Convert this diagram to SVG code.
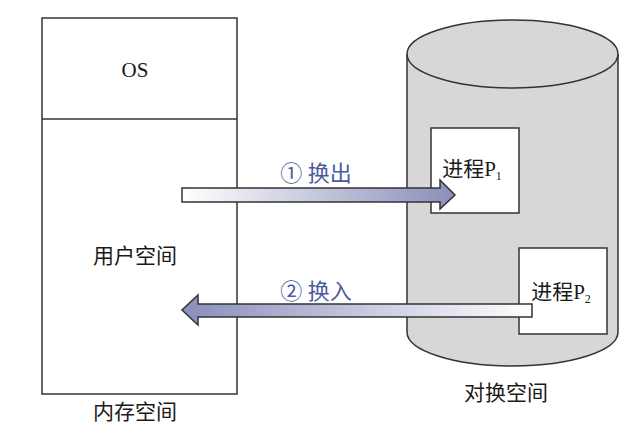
<svg xmlns="http://www.w3.org/2000/svg" width="640" height="439" viewBox="0 0 640 439">
<style>
.box{fill:#fff;stroke:#333;stroke-width:1.5}
.t{font-family:"Liberation Serif","Noto Sans CJK SC",serif;font-size:21px;fill:#1a1a1a;text-anchor:middle}
.lbl{font-family:"Liberation Serif","Noto Sans CJK SC",serif;font-size:22px;fill:#4b5a9c;text-anchor:middle}
.arr{stroke:#333;stroke-width:1.5}
</style>
<defs>
<linearGradient id="gOut" x1="182" y1="0" x2="455" y2="0" gradientUnits="userSpaceOnUse">
<stop offset="0" stop-color="#ffffff"/><stop offset="1" stop-color="#8a8eba"/>
</linearGradient>
<linearGradient id="gIn" x1="532" y1="0" x2="182" y2="0" gradientUnits="userSpaceOnUse">
<stop offset="0" stop-color="#ffffff"/><stop offset="1" stop-color="#8a8eba"/>
</linearGradient>
</defs>
<rect width="640" height="439" fill="#fff"/>
<g id="memory">
<rect class="box" x="42" y="18" width="195" height="376"/>
<line x1="42" y1="119" x2="237" y2="119" stroke="#333" stroke-width="1.5"/>
<text class="t" x="135" y="77" font-size="20">OS</text>
<text class="t" x="135" y="263">用户空间</text>
<text class="t" x="135" y="419">内存空间</text>
</g>
<g id="swap">
<path d="M407,54 L407,332 A105.5,34 0 0 0 618,332 L618,54" fill="#d7d7d7" stroke="#333" stroke-width="1.5"/>
<ellipse cx="512.5" cy="54" rx="105.5" ry="34" fill="#d7d7d7" stroke="#333" stroke-width="1.5"/>
<text class="t" x="506" y="400">对换空间</text>
</g>
<g id="p1">
<rect class="box" x="431" y="128" width="88" height="85"/>
<text class="t" x="472" y="176">进程P<tspan font-size="12" dy="4">1</tspan></text>
</g>
<g id="p2">
<rect class="box" x="519" y="248" width="88" height="86"/>
<text class="t" x="561" y="299">进程P<tspan font-size="12" dy="4">2</tspan></text>
</g>
<g id="connectors">
<path class="arr" d="M182,188 L440,188 L440,180 L455,195 L440,209 L440,202 L182,202 Z" fill="url(#gOut)"/>
<text class="lbl" x="316" y="181">① 换出</text>
<path class="arr" d="M532,304 L198,304 L198,295 L182,310 L198,325 L198,317 L532,317 Z" fill="url(#gIn)"/>
<text class="lbl" x="316" y="299">② 换入</text>
</g>
</svg>
